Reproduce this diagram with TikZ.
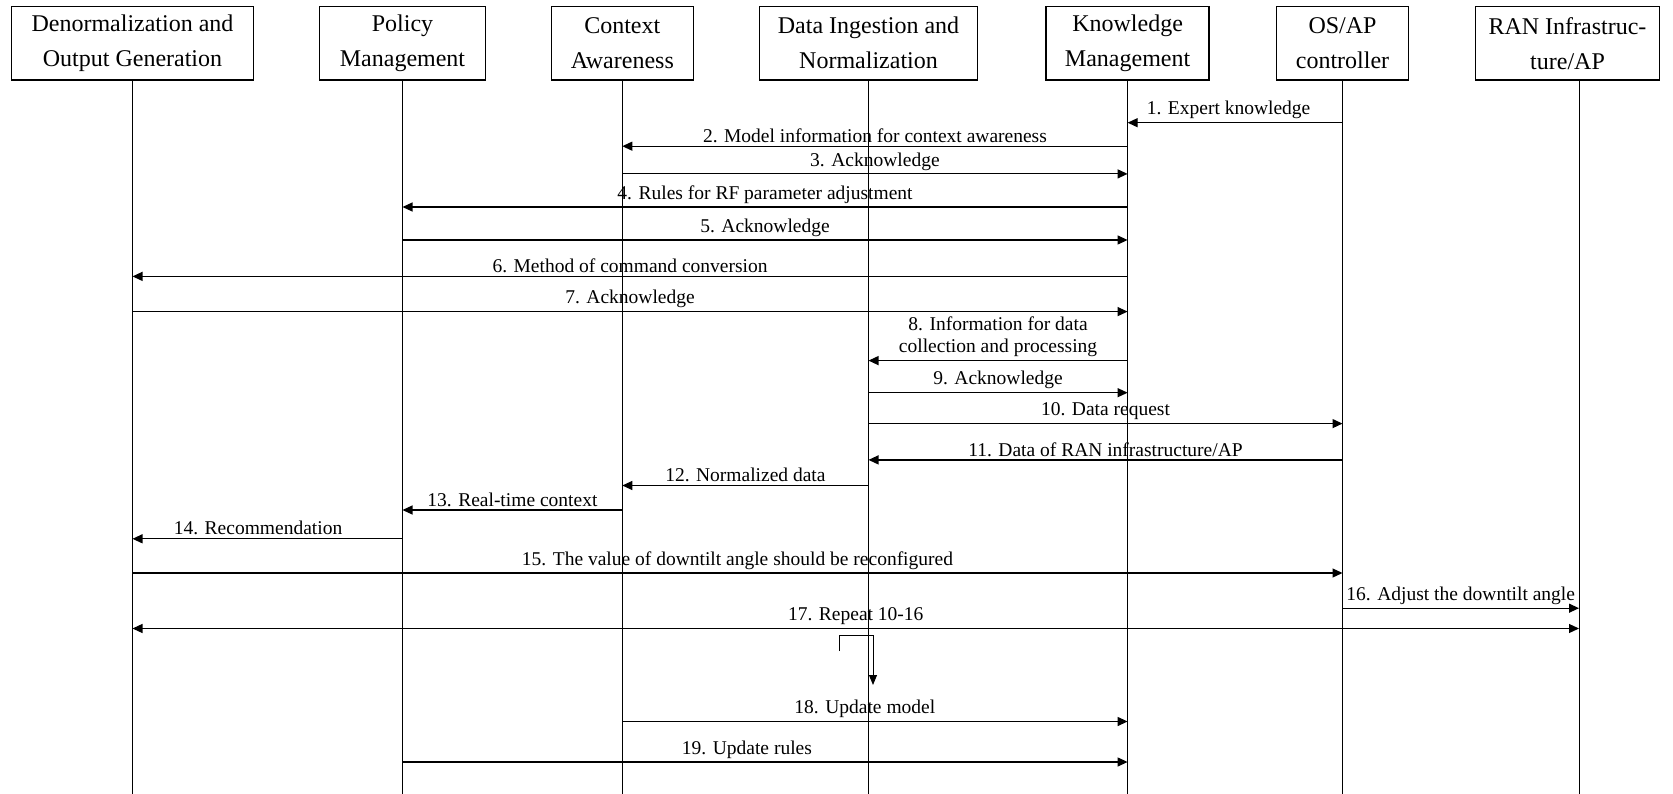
\documentclass[tikz,border=0pt]{standalone}
\usepackage{fontspec}
\setmainfont{Liberation Serif}
\usetikzlibrary{arrows.meta}

\tikzset{
	actor/.style={draw, line width=1.3pt, align=center, minimum height=73.6pt, inner sep=0pt, font=\fontsize{24}{35}\selectfont},
	lifeline/.style={line width=0.9pt},
	msg/.style={line width=1.2pt, -{Triangle[length=10pt,width=9pt]}},
	lbl/.style={midway, above, inner sep=3pt, align=center, font=\fontsize{19.5}{22.5}\selectfont},
}

\begin{document}
\begin{tikzpicture}[x=1pt,y=-1pt]

		\useasboundingbox (0,0) rectangle (1673,794);

		\node [actor, minimum width=242pt] (dog) at (132.5,43.2) {Denormalization and\\Output Generation};
		\node [actor, minimum width=165.5pt] (pm) at (402.5,43.2) {Policy\\Management};
		\node [actor, minimum width=142pt] (ca) at (622.3,43.2) {Context\\Awareness};
		\node [actor, minimum width=217.7pt] (din) at (868.5,43.2) {Data Ingestion and\\Normalization};
		\node [actor, minimum width=163pt] (km) at (1127.6,43.2) {Knowledge\\Management};
		\node [actor, minimum width=131.4pt] (os) at (1342.5,43.2) {OS/AP\\controller};
		\node [actor, minimum width=183.5pt] (ran) at (1567.5,43.2) {RAN Infrastruc-\\ture/AP};

		\coordinate (DOG) at (dog.south);
		\coordinate (PM) at (pm.south);
		\coordinate (CA) at (ca.south);
		\coordinate (DIN) at (din.south);
		\coordinate (KM) at (km.south);
		\coordinate (OS) at (os.south);
		\coordinate (RAN) at (1579,80);

		% lifelines
		\draw [lifeline] (DOG) -- (DOG |- 0,794);
		\draw [lifeline] (PM) -- (PM |- 0,794);
		\draw [lifeline] (CA) -- (CA |- 0,794);
		\draw [lifeline] (DIN) -- (DIN |- 0,794);
		\draw [lifeline] (KM) -- (KM |- 0,794);
		\draw [lifeline] (OS) -- (OS |- 0,794);
		\draw [lifeline] (RAN) -- (RAN |- 0,794);

		\draw [msg] (OS |- 0,122.7) -- (KM |- 0,122.7) node [lbl, pos=0.53] {1. Expert knowledge};
		\draw [msg] (KM |- 0,146.2) -- (CA |- 0,146.2) node [lbl] {2. Model information for context awareness};
		\draw [msg] (CA |- 0,173.9) -- (KM |- 0,173.9) node [lbl] {3. Acknowledge};
		\draw [msg] (KM |- 0,207) -- (PM |- 0,207) node [lbl] {4. Rules for RF parameter adjustment};
		\draw [msg] (PM |- 0,240) -- (KM |- 0,240) node [lbl] {5. Acknowledge};
		\draw [msg] (KM |- 0,276.4) -- (DOG |- 0,276.4) node [lbl] {6. Method of command conversion};
		\draw [msg] (DOG |- 0,311.6) -- (KM |- 0,311.6) node [lbl] {7. Acknowledge};
		\draw [msg] (KM |- 0,360.6) -- (DIN |- 0,360.6) node [lbl] {8. Information for data\\collection and processing};
		\draw [msg] (DIN |- 0,392.7) -- (KM |- 0,392.7) node [lbl] {9. Acknowledge};
		\draw [msg] (DIN |- 0,423.6) -- (OS |- 0,423.6) node [lbl] {10. Data request};
		\draw [msg] (OS |- 0,459.9) -- (DIN |- 0,459.9) node [lbl] {11. Data of RAN infrastructure/AP};
		\draw [msg] (DIN |- 0,485.5) -- (CA |- 0,485.5) node [lbl] {12. Normalized data};
		\draw [msg] (CA |- 0,510) -- (PM |- 0,510) node [lbl] {13. Real-time context};
		\draw [msg] (PM |- 0,538.8) -- (DOG |- 0,538.8) node [lbl, pos=0.535] {14. Recommendation};
		\draw [msg] (DOG |- 0,573) -- (OS |- 0,573) node [lbl] {15. The value of downtilt angle should be reconfigured};
		\draw [msg] (OS |- 0,608.2) -- (RAN |- 0,608.2) node [lbl] {16. Adjust the downtilt angle};
		\draw [msg, {Triangle[length=10pt,width=9pt]}-{Triangle[length=10pt,width=9pt]}] (DOG |- 0,628.5) -- (RAN |- 0,628.5) node [lbl] {17. Repeat 10-16};

		% repeat loop
		\coordinate (loopS) at (839,651);
		\coordinate (loopE) at (873,685);
		\draw [line width=0.9pt, -{Triangle[length=10pt,width=8pt]}] (loopS) -- ++(0,-16) -| (loopE);

		\draw [msg] (CA |- 0,721.5) -- (KM |- 0,721.5) node [lbl, pos=0.48] {18. Update model};
		\draw [msg] (PM |- 0,762) -- (KM |- 0,762) node [lbl, pos=0.475] {19. Update rules};

\end{tikzpicture}
\end{document}
